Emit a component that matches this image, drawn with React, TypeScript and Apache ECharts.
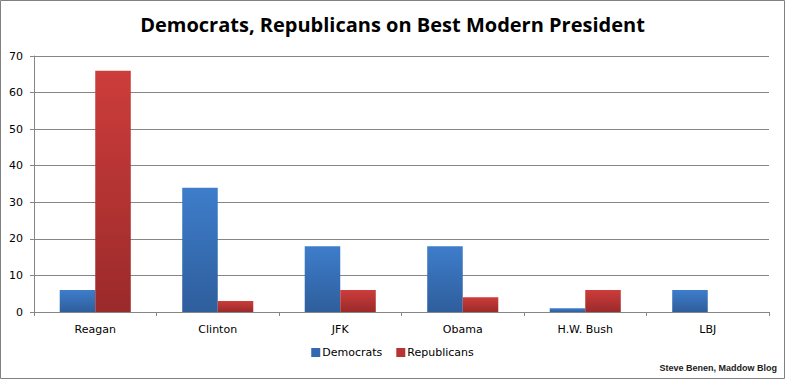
import React, { useEffect, useRef } from "react";
import * as echarts from "echarts";

const categories = ["Reagan", "Clinton", "JFK", "Obama", "H.W. Bush", "LBJ"];
const democrats = [6, 34, 18, 18, 1, 6];
const republicans = [66, 3, 6, 4, 6, 0];
const yTicks = [0, 10, 20, 30, 40, 50, 60, 70];

const blueGrad = () =>
  new echarts.graphic.LinearGradient(0, 0, 0, 1, [
    { offset: 0, color: "#3E7DCB" },
    { offset: 1, color: "#2E5E9C" },
  ]);
const redGrad = () =>
  new echarts.graphic.LinearGradient(0, 0, 0, 1, [
    { offset: 0, color: "#CC3D3B" },
    { offset: 1, color: "#9B2A2A" },
  ]);

export default function App() {
  const ref = useRef<HTMLDivElement>(null);
  useEffect(() => {
    document.body.style.margin = "0";
    const chart = echarts.init(ref.current!, null, { renderer: "svg" });
    chart.setOption({
      animation: false,
      backgroundColor: "#ffffff",
      title: {
        text: "Democrats, Republicans on Best Modern President",
        left: "center",
        top: 9,
        textStyle: {
          fontFamily: "Open Sans",
          fontWeight: "bold",
          fontSize: 20,
          color: "#000000",
        },
      },
      graphic: [
        {
          type: "rect",
          shape: { x: 0.5, y: 0.5, width: 784, height: 378 },
          style: { fill: "none", stroke: "#808080", lineWidth: 1 },
          silent: true,
        },
        {
          type: "text",
          right: 8,
          bottom: 7,
          style: {
            text: "Steve Benen, Maddow Blog",
            fontFamily: "Liberation Sans",
            fontWeight: "bold",
            fontSize: 9,
            fill: "#222222",
          },
        },
      ],
      legend: {
        bottom: 16,
        left: "center",
        itemWidth: 9,
        itemHeight: 9,
        itemGap: 14,
        icon: "rect",
        textStyle: { fontFamily: "DejaVu Sans", fontSize: 11, color: "#000000", padding: [0, 0, 0, -3] },
        data: [
          { name: "Democrats", itemStyle: { color: "#3468B0" } },
          { name: "Republicans", itemStyle: { color: "#B83333" } },
        ],
      },
      grid: { left: 34, right: 16, top: 56, bottom: 67 },
      xAxis: {
        type: "category",
        data: categories,
        axisLine: { show: true, lineStyle: { color: "#868686", width: 1 } },
        axisTick: { show: true, length: 4, lineStyle: { color: "#868686" } },
        axisLabel: {
          fontFamily: "DejaVu Sans",
          fontSize: 11,
          color: "#000000",
          margin: 12,
        },
      },
      yAxis: {
        type: "value",
        min: 0,
        max: 70,
        interval: 10,
        axisLine: { show: true, lineStyle: { color: "#868686", width: 1 } },
        axisTick: { show: true, length: 4, lineStyle: { color: "#868686" } },
        splitLine: { show: true, lineStyle: { color: "#868686", width: 1 } },
        axisLabel: {
          fontFamily: "DejaVu Sans",
          fontSize: 11,
          color: "#000000",
          margin: 11,
          formatter: (v: number) => (yTicks.includes(v) ? String(v) : ""),
        },
      },
      series: [
        {
          name: "Democrats",
          type: "bar",
          data: democrats,
          barGap: "0%",
          barCategoryGap: "42%",
          itemStyle: { color: blueGrad() },
        },
        {
          name: "Republicans",
          type: "bar",
          data: republicans,
          barGap: "0%",
          barCategoryGap: "42%",
          itemStyle: { color: redGrad() },
        },
      ],
    });
    return () => chart.dispose();
  }, []);
  return (
    <div
      ref={ref}
      style={{ position: "absolute", left: 0, top: 0, width: 785, height: 379 }}
    />
  );
}
